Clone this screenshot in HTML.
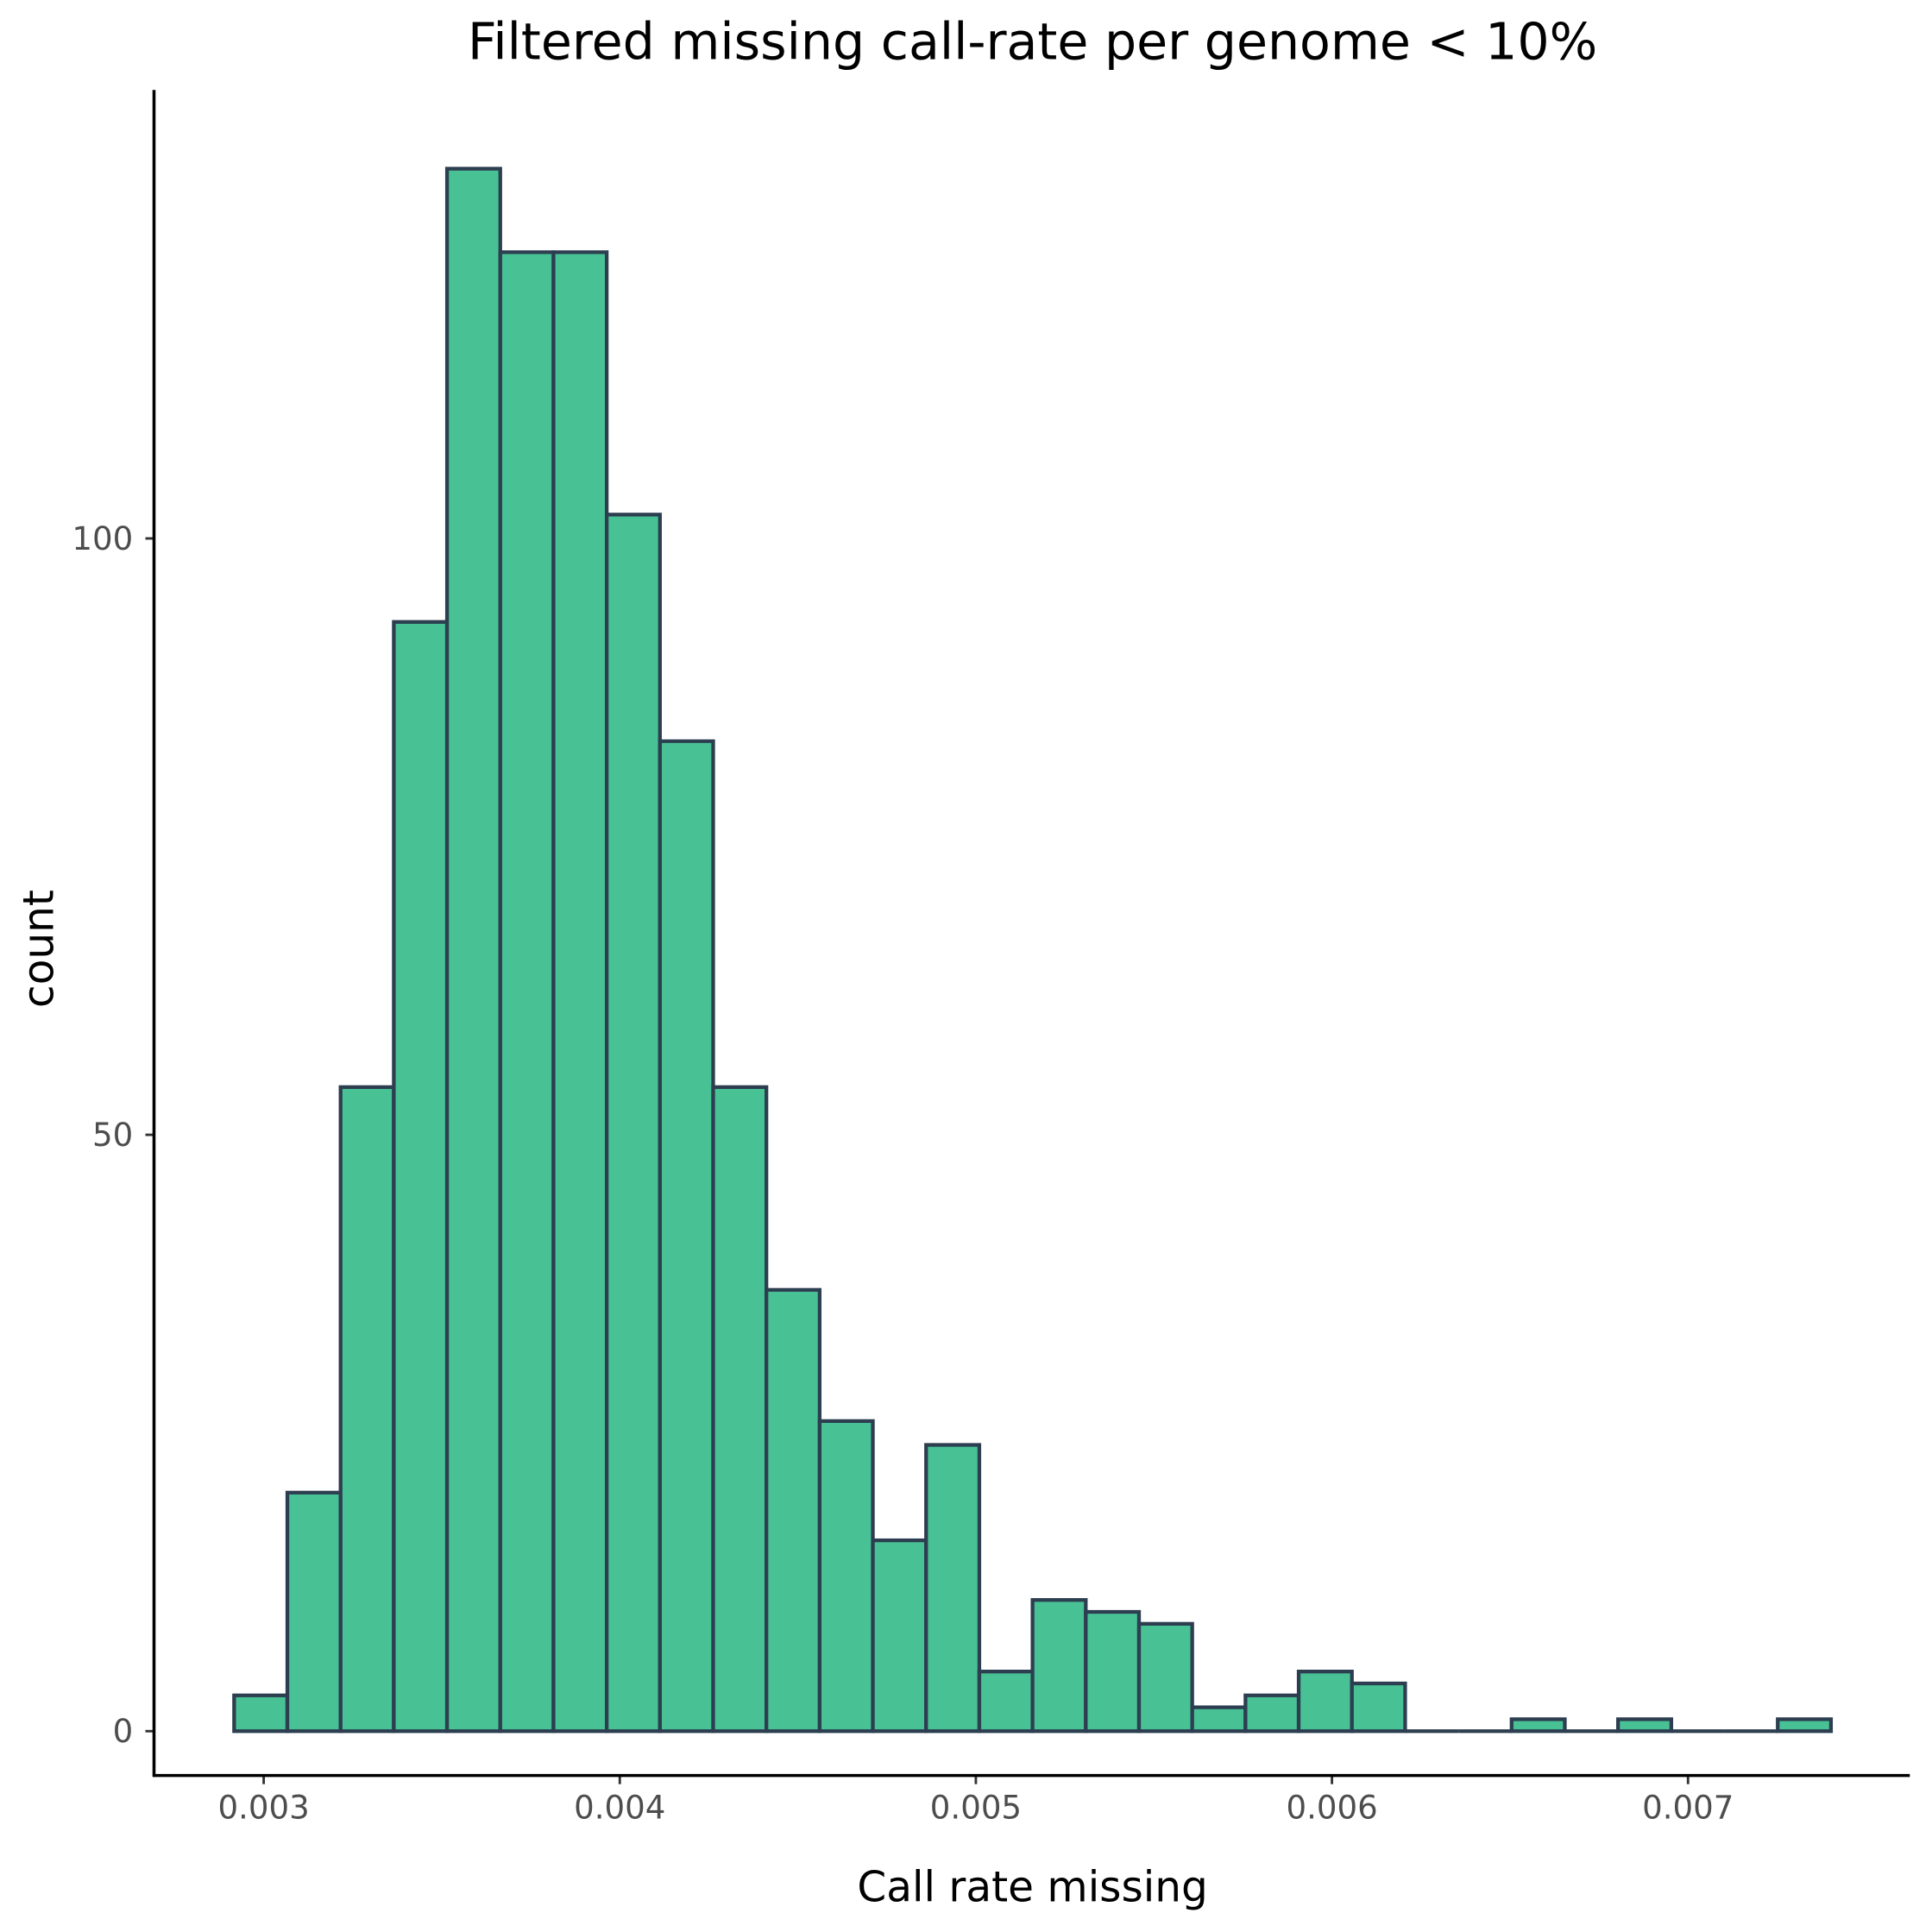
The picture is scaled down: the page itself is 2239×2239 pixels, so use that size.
<!DOCTYPE html>
<html><head><meta charset="utf-8"><style>
html,body{margin:0;padding:0;background:#fff;}
svg{display:block;font-family:"DejaVu Sans","Liberation Sans",sans-serif;}
</style></head><body>
<svg id="chart" width="2239" height="2239" viewBox="0 0 1568 1568" xmlns="http://www.w3.org/2000/svg">
<rect width="1568" height="1568" fill="#fff"/>
<text x="838" y="48" font-size="41" text-anchor="middle" fill="#000">Filtered missing call-rate per genome &lt; 10%</text>
<text x="838" y="1543" font-size="34" text-anchor="middle" fill="#000">Call rate missing</text>
<text transform="translate(43,770) rotate(-90)" font-size="34" text-anchor="middle" fill="#000">count</text>
<g id="bars"></g>
<g id="xticks"></g>
<g id="yticks"></g>
<line x1="125" y1="73" x2="125" y2="1442" stroke="#000" stroke-width="2.5"/>
<line x1="124" y1="1441" x2="1550" y2="1441" stroke="#000" stroke-width="2.5"/>
</svg>
<script>
const binStart = 0.0029170;
const binEnd = 0.0074014;
const counts = [3,20,54,93,131,124,124,102,83,54,37,26,16,24,5,11,10,9,2,3,5,4,0,0,1,0,1,0,0,1];
const xTickValues = [0.003,0.004,0.005,0.006,0.007];
const xTickLabels = ["0.003","0.004","0.005","0.006","0.007"];
const yTickValues = [0,50,100];
const yTickLabels = ["0","50","100"];

const NS = "http://www.w3.org/2000/svg";
function xScale(v){ return 214 + (v - 0.003) / 0.001 * 289; }
function yScale(v){ return 1405 - v * 9.68; }

const bars = document.getElementById('bars');
const bw = (binEnd - binStart) / counts.length;
counts.forEach((c, i) => {
  const x0 = xScale(binStart + i * bw), x1 = xScale(binStart + (i + 1) * bw);
  if (c === 0) {
    const l = document.createElementNS(NS, 'line');
    l.setAttribute('x1', x0); l.setAttribute('x2', x1);
    l.setAttribute('y1', yScale(0)); l.setAttribute('y2', yScale(0));
    l.setAttribute('stroke', '#2c3e50'); l.setAttribute('stroke-width', '3');
    
    
    bars.appendChild(l);
    return;
  }
  const r = document.createElementNS(NS, 'rect');
  r.setAttribute('x', x0);
  r.setAttribute('y', yScale(c));
  r.setAttribute('width', x1 - x0);
  r.setAttribute('height', yScale(0) - yScale(c));
  r.setAttribute('fill', '#48c194');
  r.setAttribute('stroke', '#2c3e50');
  r.setAttribute('stroke-width', '3');
  
  
  bars.appendChild(r);
});

const xt = document.getElementById('xticks');
xTickValues.forEach((v, i) => {
  const x = xScale(v);
  const l = document.createElementNS(NS, 'line');
  l.setAttribute('x1', x); l.setAttribute('x2', x);
  l.setAttribute('y1', 1441); l.setAttribute('y2', 1448);
  l.setAttribute('stroke', '#333'); l.setAttribute('stroke-width', '2');
  
  
  xt.appendChild(l);
  const t = document.createElementNS(NS, 'text');
  t.setAttribute('x', x); t.setAttribute('y', 1476);
  t.setAttribute('font-size', '26'); t.setAttribute('text-anchor', 'middle'); t.setAttribute('fill', '#4d4d4d');
  t.textContent = xTickLabels[i];
  
  
  xt.appendChild(t);
});

const yt = document.getElementById('yticks');
yTickValues.forEach((v, i) => {
  const y = yScale(v);
  const l = document.createElementNS(NS, 'line');
  l.setAttribute('x1', 118); l.setAttribute('x2', 125);
  l.setAttribute('y1', y); l.setAttribute('y2', y);
  l.setAttribute('stroke', '#333'); l.setAttribute('stroke-width', '2');
  
  
  yt.appendChild(l);
  const t = document.createElementNS(NS, 'text');
  t.setAttribute('x', 108); t.setAttribute('y', y + 9);
  t.setAttribute('font-size', '26'); t.setAttribute('text-anchor', 'end'); t.setAttribute('fill', '#4d4d4d');
  t.textContent = yTickLabels[i];
  
  
  yt.appendChild(t);
});
</script>
</body></html>
